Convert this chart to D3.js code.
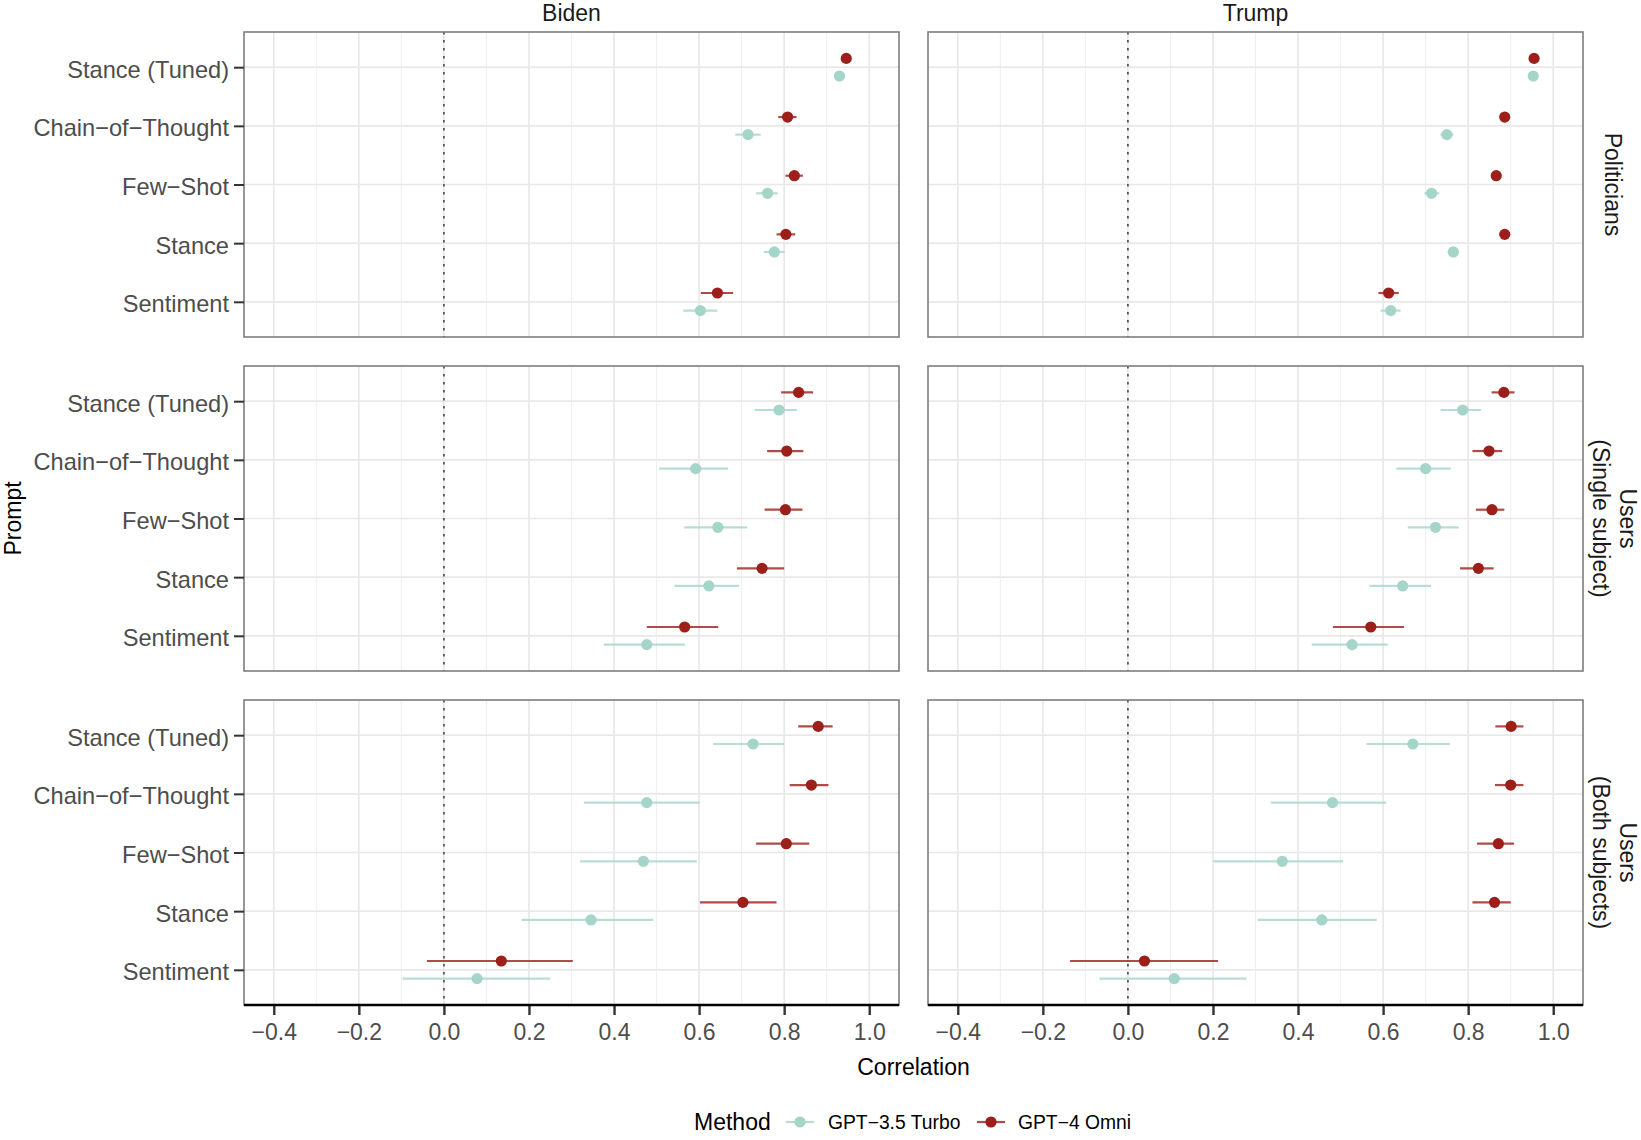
<!DOCTYPE html>
<html>
<head>
<meta charset="utf-8">
<script src="https://cdn.jsdelivr.net/npm/d3@7"></script>
<style>
  html, body { margin: 0; padding: 0; background: #ffffff; }
  svg { display: block; font-family: "Liberation Sans", Arial, Helvetica, sans-serif; }
</style>
</head>
<body>
<svg id="chart" width="1641" height="1140"></svg>
<script>
// ---------- data ----------
const prompts = ["Stance (Tuned)", "Chain\u2212of\u2212Thought", "Few\u2212Shot", "Stance", "Sentiment"];
const subjects = ["Biden", "Trump"];
const groups = [["Politicians"], ["Users", "(Single subject)"], ["Users", "(Both subjects)"]];
const methods = ["GPT\u22123.5 Turbo", "GPT\u22124 Omni"];
const xTicks = [-0.4, -0.2, 0.0, 0.2, 0.4, 0.6, 0.8, 1.0];
const xMinor = [-0.3, -0.1, 0.1, 0.3, 0.5, 0.7, 0.9];

// rows: panel order [Politicians-Biden, Politicians-Trump, Single-Biden, Single-Trump, Both-Biden, Both-Trump]
// columns: prompts order
const gpt35Est = [
  [0.930, 0.715, 0.761, 0.777, 0.603],
  [0.953, 0.750, 0.714, 0.765, 0.618],
  [0.788, 0.592, 0.644, 0.623, 0.477],
  [0.787, 0.700, 0.723, 0.646, 0.527],
  [0.727, 0.477, 0.469, 0.346, 0.078],
  [0.670, 0.481, 0.363, 0.456, 0.109]
];
const gpt35Lo = [
  [0.922, 0.685, 0.734, 0.752, 0.563],
  [0.947, 0.735, 0.697, 0.752, 0.594],
  [0.731, 0.506, 0.565, 0.542, 0.376],
  [0.735, 0.631, 0.658, 0.568, 0.432],
  [0.633, 0.329, 0.320, 0.183, -0.097],
  [0.561, 0.336, 0.201, 0.305, -0.067]
];
const gpt35Hi = [
  [0.938, 0.745, 0.785, 0.801, 0.643],
  [0.959, 0.765, 0.732, 0.778, 0.641],
  [0.830, 0.668, 0.713, 0.694, 0.567],
  [0.830, 0.759, 0.778, 0.713, 0.611],
  [0.800, 0.601, 0.595, 0.492, 0.250],
  [0.757, 0.607, 0.506, 0.585, 0.279]
];
const gpt4Est = [
  [0.946, 0.808, 0.824, 0.804, 0.643],
  [0.955, 0.886, 0.866, 0.886, 0.613],
  [0.834, 0.806, 0.803, 0.748, 0.566],
  [0.884, 0.849, 0.856, 0.824, 0.571],
  [0.880, 0.864, 0.805, 0.703, 0.135],
  [0.901, 0.900, 0.871, 0.862, 0.039]
];
const gpt4Lo = [
  [0.940, 0.786, 0.803, 0.782, 0.604],
  [0.950, 0.879, 0.858, 0.879, 0.589],
  [0.793, 0.760, 0.754, 0.689, 0.477],
  [0.855, 0.810, 0.818, 0.781, 0.482],
  [0.833, 0.813, 0.734, 0.602, -0.040],
  [0.864, 0.863, 0.821, 0.810, -0.136]
];
const gpt4Hi = [
  [0.952, 0.829, 0.844, 0.826, 0.680],
  [0.960, 0.893, 0.874, 0.893, 0.637],
  [0.868, 0.845, 0.843, 0.800, 0.645],
  [0.909, 0.880, 0.885, 0.860, 0.649],
  [0.914, 0.904, 0.859, 0.782, 0.303],
  [0.930, 0.930, 0.908, 0.900, 0.212]
];

// ---------- layout ----------
const colors = ["#a5d5c9", "#9c1f1a"];
const panelW = 655, panelH = 305;
const panelLeft = [244, 928];
const panelTop = [32, 366, 700];

const svg = d3.select("#chart");
const x = d3.scaleLinear().domain([-0.47, 1.07]).range([0, panelW]);
const y = d3.scalePoint().domain(prompts).range([0, panelH]).padding(0.6);
const dodge = y.step() * 0.15;

const estArr = [gpt35Est, gpt4Est], loArr = [gpt35Lo, gpt4Lo], hiArr = [gpt35Hi, gpt4Hi];

groups.forEach((grp, gi) => {
  subjects.forEach((subj, si) => {
    const pIdx = gi * 2 + si;
    const g = svg.append("g").attr("transform", `translate(${panelLeft[si]},${panelTop[gi]})`);

    // minor grid
    g.selectAll("line.minor").data(xMinor).join("line")
      .attr("x1", d => x(d)).attr("x2", d => x(d)).attr("y1", 0).attr("y2", panelH)
      .attr("stroke", "#ececec").attr("stroke-width", 0.9);
    // major grid x
    g.selectAll("line.majx").data(xTicks).join("line")
      .attr("x1", d => x(d)).attr("x2", d => x(d)).attr("y1", 0).attr("y2", panelH)
      .attr("stroke", "#e8e8e8").attr("stroke-width", 1.7);
    // major grid y
    g.selectAll("line.majy").data(prompts).join("line")
      .attr("x1", 0).attr("x2", panelW).attr("y1", d => y(d)).attr("y2", d => y(d))
      .attr("stroke", "#e8e8e8").attr("stroke-width", 1.7);

    // zero line
    g.append("line").attr("x1", x(0)).attr("x2", x(0)).attr("y1", 0).attr("y2", panelH)
      .attr("stroke", "#5a5a5a").attr("stroke-width", 1.8).attr("stroke-dasharray", "2.5,5.5");

    // error bars and points
    methods.forEach((m, mi) => {
      const off = mi === 0 ? dodge : -dodge;
      const rows = prompts.map((p, pi) => ({
        p, est: estArr[mi][pIdx][pi], lo: loArr[mi][pIdx][pi], hi: hiArr[mi][pIdx][pi]
      }));
      g.selectAll(null).data(rows).join("line")
        .attr("x1", d => x(d.lo)).attr("x2", d => x(d.hi))
        .attr("y1", d => y(d.p) + off).attr("y2", d => y(d.p) + off)
        .attr("stroke", colors[mi]).attr("stroke-opacity", 0.8).attr("stroke-width", 2.2);
      g.selectAll(null).data(rows).join("circle")
        .attr("cx", d => x(d.est)).attr("cy", d => y(d.p) + off).attr("r", 5.6)
        .attr("fill", colors[mi]);
    });

    // panel border
    g.append("rect").attr("x", 0).attr("y", 0).attr("width", panelW).attr("height", panelH)
      .attr("fill", "none").attr("stroke", "#7d7d7d").attr("stroke-width", 1.6);

    // y axis (left column only)
    if (si === 0) {
      const ya = g.append("g").call(d3.axisLeft(y).tickSize(10).tickPadding(5));
      ya.select(".domain").remove();
      ya.selectAll(".tick line").attr("stroke", "#333").attr("stroke-width", 2);
      ya.selectAll(".tick text").attr("fill", "#4d4d4d").attr("font-size", 23.6).attr("dy", "0.42em")
        .attr("font-family", "Liberation Sans, Arial, sans-serif");
    }

    // x axis (bottom row only)
    if (gi === groups.length - 1) {
      const xa = g.append("g").attr("transform", `translate(0,${panelH})`)
        .call(d3.axisBottom(x).tickValues(xTicks).tickSize(10).tickPadding(9)
          .tickFormat(d => d3.format(".1f")(d).replace("-", "\u2212")));
      xa.select(".domain").remove();
      xa.selectAll(".tick line").attr("stroke", "#333").attr("stroke-width", 2.4);
      xa.selectAll(".tick text").attr("fill", "#4d4d4d").attr("font-size", 23)
        .attr("font-family", "Liberation Sans, Arial, sans-serif");
      g.append("line").attr("x1", 0).attr("x2", panelW).attr("y1", panelH).attr("y2", panelH)
        .attr("stroke", "#000").attr("stroke-width", 2.6);
    }

    // top strip
    if (gi === 0) {
      svg.append("text").attr("x", panelLeft[si] + panelW / 2).attr("y", 21)
        .attr("text-anchor", "middle").attr("font-size", 23).attr("fill", "#1a1a1a").text(subj);
    }
  });

  // right strip
  const cy = panelTop[gi] + panelH / 2;
  const base = grp.length === 1 ? [1605] : [1620, 1593];
  grp.forEach((line, li) => {
    svg.append("text").attr("transform", `translate(${base[li]},${cy}) rotate(90)`)
      .attr("text-anchor", "middle").attr("font-size", 23).attr("fill", "#1a1a1a").text(line);
  });
});

// axis titles
svg.append("text").attr("x", (panelLeft[0] + panelLeft[1] + panelW) / 2).attr("y", 1075)
  .attr("text-anchor", "middle").attr("font-size", 23).attr("fill", "#000").text("Correlation");
svg.append("text").attr("transform", `translate(21,${(panelTop[0] + panelTop[2] + panelH) / 2}) rotate(-90)`)
  .attr("text-anchor", "middle").attr("font-size", 23).attr("fill", "#000").text("Prompt");

// legend
const leg = svg.append("g");
const legY = 1122;
leg.append("text").attr("x", 694).attr("y", 1130).attr("font-size", 23).attr("fill", "#000").text("Method");
const keyX = [786, 977], labX = [828, 1018];
methods.forEach((m, mi) => {
  leg.append("line").attr("x1", keyX[mi]).attr("x2", keyX[mi] + 28).attr("y1", legY).attr("y2", legY)
    .attr("stroke", colors[mi]).attr("stroke-opacity", 0.8).attr("stroke-width", 2.2);
  leg.append("circle").attr("cx", keyX[mi] + 14).attr("cy", legY).attr("r", 5.6).attr("fill", colors[mi]);
  leg.append("text").attr("x", labX[mi]).attr("y", 1129).attr("font-size", 19.3).attr("fill", "#000").text(m);
});
</script>
</body>
</html>
